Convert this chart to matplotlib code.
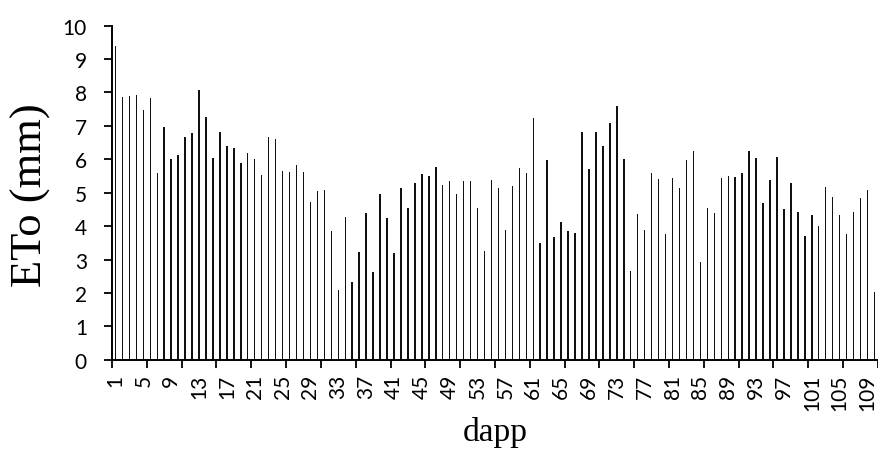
import numpy as np
import matplotlib
matplotlib.use("Agg")
import matplotlib.pyplot as plt
from matplotlib.ticker import FixedLocator


# daily reference evapotranspiration, days after planting 1..110
dapp = np.arange(1, 111)
eto = [9.38, 7.87, 7.88, 7.92, 7.47, 7.82, 5.60, 6.98, 6.00, 6.12,
       6.66, 6.79, 8.06, 7.27, 6.04, 6.83, 6.40, 6.35, 5.89, 6.19,
       6.00, 5.52, 6.67, 6.61, 5.65, 5.61, 5.83, 5.62, 4.72, 5.04,
       5.08, 3.85, 2.09, 4.26, 2.34, 3.22, 4.38, 2.63, 4.95, 4.24,
       3.19, 5.13, 4.53, 5.29, 5.55, 5.50, 5.76, 5.23, 5.35, 4.95,
       5.35, 5.35, 4.55, 3.26, 5.38, 5.13, 3.88, 5.20, 5.74, 5.58,
       7.25, 3.48, 5.99, 3.68, 4.12, 3.85, 3.80, 6.82, 5.72, 6.83,
       6.39, 7.09, 7.61, 6.01, 2.65, 4.37, 3.87, 5.60, 5.41, 3.76,
       5.43, 5.13, 5.98, 6.25, 2.93, 4.54, 4.38, 5.45, 5.49, 5.46,
       5.60, 6.24, 6.04, 4.70, 5.38, 6.08, 4.51, 5.28, 4.43, 3.71,
       4.32, 4.00, 5.18, 4.86, 4.33, 3.76, 4.43, 4.84, 5.08, 2.03]

label_days = dapp[::4]          # 1, 5, 9, ... 109
y_ticks = np.arange(0, 11)

fig = plt.figure(figsize=(8.79, 4.64), dpi=100)
ax = fig.add_axes([0.1274, 0.2226, 0.8714, 0.7199])

ax.bar(dapp, eto, width=0.21, color="#111111", linewidth=0)

ax.set_xlim(0.5, 110.5)
ax.set_ylim(0, 10)

# labels every 4 days, tick marks on category edges every 5 days
ax.xaxis.set_major_locator(FixedLocator(label_days))
ax.set_xticklabels([str(d) for d in label_days], rotation=90,
                   family="Lato", fontsize=15)
ax.xaxis.set_minor_locator(FixedLocator(np.arange(0.5, 111, 5)))
ax.tick_params(axis="x", which="major", length=0, pad=10)
ax.tick_params(axis="x", which="minor", length=6, width=1.3, direction="out")

ax.set_yticks(y_ticks)
ax.set_yticklabels([str(v) for v in y_ticks], family="Lato", fontsize=15)
ax.tick_params(axis="y", length=6, width=1.3, pad=12)

for side in ["top", "right"]:
    ax.spines[side].set_visible(False)
for side in ["left", "bottom"]:
    ax.spines[side].set_linewidth(1.4)

fig.text(31 / 879, 1 - 195 / 464, "ETo (mm)", rotation=90, ha="center",
         va="center", family="Liberation Serif", fontsize=32)
fig.text(495 / 879, 1 - 433 / 464, "dapp", ha="center", va="center",
         family="Liberation Serif", fontsize=24)

fig.savefig("out.png", dpi=100)
